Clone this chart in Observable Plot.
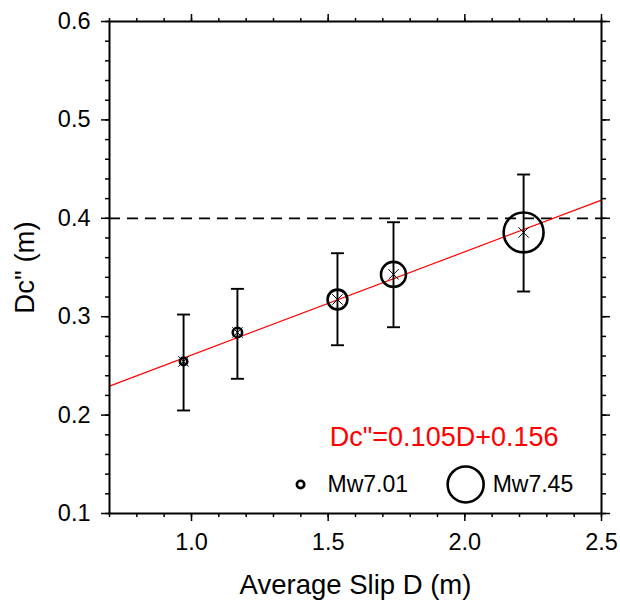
<!DOCTYPE html>
<html><head><meta charset="utf-8">
<script src="https://cdn.jsdelivr.net/npm/d3@7"></script>
<script src="https://cdn.jsdelivr.net/npm/@observablehq/plot@0.6"></script>
<style>body{margin:0;background:#fff}</style>
</head><body><div id="chart"></div>
<script>
// Data
const slip   = [0.971, 1.168, 1.534, 1.739, 2.215];
const dc     = [0.2545, 0.284, 0.3175, 0.343, 0.3856];
const dcLow  = [0.2047, 0.2369, 0.271, 0.2893, 0.3256];
const dcHigh = [0.3022, 0.3283, 0.3645, 0.396, 0.4445];
const mw     = [7.01, 7.04, 7.20, 7.28, 7.51];
const fitX = [0.7, 2.5];
const fitY = [0.2295, 0.4185];
const threshold = [0.4];
const equation = ['Dc"=0.105D+0.156'];
const legendMw = [7.01, 7.45];
const legendLabels = ["Mw7.01", "Mw7.45"];
const xMajorTicks = [1.0, 1.5, 2.0, 2.5];
const xMinorTicks = [0.7,0.8,0.9,1.0,1.1,1.2,1.3,1.4,1.5,1.6,1.7,1.8,1.9,2.0,2.1,2.2,2.3,2.4,2.5];
const yMajorTicks = [0.1, 0.2, 0.3, 0.4, 0.5, 0.6];
const yMinorTicks = [0.1,0.12,0.14,0.16,0.18,0.2,0.22,0.24,0.26,0.28,0.3,0.32,0.34,0.36,0.38,0.4,0.42,0.44,0.46,0.48,0.5,0.52,0.54,0.56,0.58,0.6];
const xTitle = "Average Slip D (m)";
const yTitle = 'Dc" (m)';

// layout (not data)
const legendX = [1.399, 2.003];
const legendY = 0.1295;

const points = slip.map((x, i) => ({x, y: dc[i], lo: dcLow[i], hi: dcHigh[i], mw: mw[i]}));
const fit = fitX.map((x, i) => ({x, y: fitY[i]}));
const legend = legendMw.map((m, i) => ({mw: m, label: legendLabels[i], x: legendX[i], y: legendY}));
const cap = {draw(ctx) { ctx.moveTo(-6.5, 0); ctx.lineTo(6.5, 0); }};
const fmt = d3.format(".1f");
const blank = () => "";
const font = "'Liberation Sans', Arial, Helvetica, sans-serif";

const chart = Plot.plot({
  width: 620, height: 601,
  marginLeft: 109, marginRight: 19, marginTop: 21, marginBottom: 88,
  x: {domain: [0.7, 2.5]},
  y: {domain: [0.1, 0.6]},
  r: {type: "linear", domain: [7.01, 7.45], range: [3.7, 18]},
  style: {fontFamily: font, fontSize: "23px", background: "white", color: "black"},
  marks: [
    Plot.axisX({ticks: xMinorTicks, anchor: "bottom", tickSize: 4, tickFormat: blank, label: null, strokeWidth: 1.5}),
    Plot.axisX({ticks: xMinorTicks, anchor: "top", tickSize: 4, tickFormat: blank, label: null, strokeWidth: 1.5}),
    Plot.axisX({ticks: xMajorTicks, anchor: "bottom", tickSize: 8, tickPadding: 12, tickFormat: fmt, label: null, strokeWidth: 1.5, fontSize: 23.5}),
    Plot.axisX({ticks: xMajorTicks, anchor: "top", tickSize: 8, tickFormat: blank, label: null, strokeWidth: 1.5}),
    Plot.axisY({ticks: yMinorTicks, anchor: "left", tickSize: 4, tickFormat: blank, label: null, strokeWidth: 1.5}),
    Plot.axisY({ticks: yMinorTicks, anchor: "right", tickSize: 4, tickFormat: blank, label: null, strokeWidth: 1.5}),
    Plot.axisY({ticks: yMajorTicks, anchor: "left", tickSize: 8, tickPadding: 11, tickFormat: fmt, label: null, strokeWidth: 1.5, fontSize: 23.5}),
    Plot.axisY({ticks: yMajorTicks, anchor: "right", tickSize: 8, tickFormat: blank, label: null, strokeWidth: 1.5}),
    Plot.ruleY(threshold, {stroke: "black", strokeWidth: 1.8, strokeDasharray: "11,7"}),
    Plot.line(fit, {x: "x", y: "y", stroke: "red", strokeWidth: 1.2}),
    Plot.ruleX(points, {x: "x", y1: "lo", y2: "hi", stroke: "black", strokeWidth: 1.9}),
    Plot.dot(points, {x: "x", y: "lo", symbol: cap, stroke: "black", strokeWidth: 1.9, fill: "none"}),
    Plot.dot(points, {x: "x", y: "hi", symbol: cap, stroke: "black", strokeWidth: 1.9, fill: "none"}),
    Plot.dot(points, {x: "x", y: "y", r: "mw", stroke: "black", strokeWidth: 2.6, fill: "none"}),
    Plot.dot(points, {x: "x", y: "y", symbol: "times", r: 4.8, stroke: "black", strokeWidth: 1}),
    Plot.frame({stroke: "black", strokeWidth: 2}),
    Plot.dot(legend, {x: "x", y: "y", r: "mw", stroke: "black", strokeWidth: 2.6, fill: "none"}),
    Plot.text(legend, {x: "x", y: "y", text: "label", dx: 27, textAnchor: "start", fontSize: 23, fill: "black"}),
    Plot.text(equation, {text: d => d, frameAnchor: "bottom-right", textAnchor: "end", lineAnchor: "bottom", dx: -43, dy: -68, fontSize: 27, fill: "red"}),
    Plot.text([xTitle], {text: d => d, frameAnchor: "bottom", textAnchor: "middle", lineAnchor: "bottom", dy: 80, fontSize: 27.5, fill: "black"}),
    Plot.text([yTitle], {text: d => d, frameAnchor: "left", textAnchor: "middle", lineAnchor: "middle", rotate: -90, dx: -84, fontSize: 27.5, fill: "black"})
  ]
});
document.getElementById("chart").append(chart);
</script>
</body></html>
